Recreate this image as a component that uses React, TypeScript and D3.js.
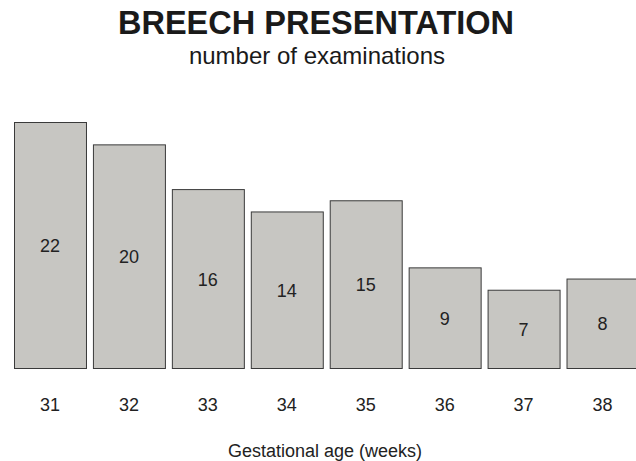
import React from 'react';
import * as d3 from 'd3';

// gestational age (weeks) and number of breech examinations
const weeks = ['31', '32', '33', '34', '35', '36', '37', '38'];
const counts = [22, 20, 16, 14, 15, 9, 7, 8];

const W = 636;
const H = 461;

const App = () => {
  const x = d3.scaleBand<string>()
    .domain(weeks)
    .range([14, 638.5])
    .paddingInner(0.088)
    .paddingOuter(0);

  const y = d3.scaleLinear()
    .domain([0, 22])
    .range([368, 122]);

  const font = '"Liberation Sans", Arial, sans-serif';

  return (
    <svg width={W} height={H} style={{ position: 'absolute', left: 0, top: 0, fontFamily: font }}>
      <rect width={W} height={H} fill="#fff" />

      <text x={316} y={34} textAnchor="middle" fontSize={32.5} fontWeight="bold" fill="#1a1a1a">
        BREECH PRESENTATION
      </text>
      <text x={317} y={64} textAnchor="middle" fontSize={24} fill="#1a1a1a">
        number of examinations
      </text>

      {weeks.map((w, i) => {
        const x0 = x(w)!;
        const bw = x.bandwidth();
        const top = y(counts[i]);
        const bottom = y(0);
        return (
          <g key={w}>
            <rect x={x0 + 0.5} y={top + 0.5} width={bw} height={bottom - top}
              fill="#c7c6c2" stroke="#3a3a3a" strokeWidth={1} />
            <text x={x0 + bw / 2} y={(top + bottom) / 2 + 7} textAnchor="middle"
              fontSize={18} fill="#222">{counts[i]}</text>
            <text x={x0 + bw / 2} y={411} textAnchor="middle" fontSize={18} fill="#222">{w}</text>
          </g>
        );
      })}

      <text x={325} y={457} textAnchor="middle" fontSize={18} fill="#222">
        Gestational age (weeks)
      </text>
    </svg>
  );
};

export default App;
